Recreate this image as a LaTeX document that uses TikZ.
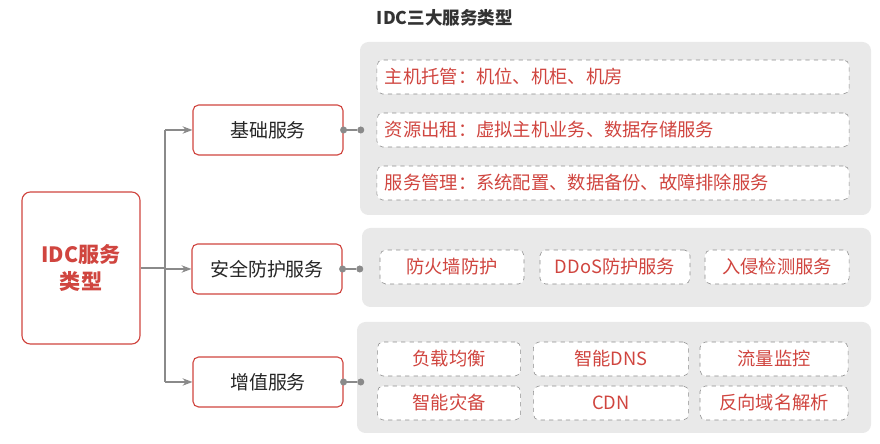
\documentclass[tikz,border=0pt]{standalone}
\usepackage{fontspec}
\setmainfont{Noto Sans CJK SC}
\usetikzlibrary{arrows.meta}
\definecolor{idcred}{HTML}{D0453F}
\definecolor{panelgray}{HTML}{E9E9E9}
\definecolor{linegray}{HTML}{8A8A8A}
\tikzset{
  rootbox/.style={draw=idcred,thick,rounded corners=6pt,fill=white,minimum width=2.95cm,minimum height=3.8cm,align=center,text=idcred,font=\bfseries\fontsize{15}{19}\selectfont},
  catbox/.style={draw=idcred,thick,rounded corners=4pt,fill=white,minimum width=3.75cm,minimum height=1.25cm,text=black!85,font=\fontsize{13.5}{15}\selectfont},
  panel/.style={fill=panelgray,rounded corners=6pt},
  itembox/.style={draw=black!45,dashed,rounded corners=4pt,fill=white,minimum height=0.85cm,text=idcred,font=\fontsize{13}{15}\selectfont},
  longitem/.style={itembox,text width=11.4cm,align=left,inner xsep=0.2cm},
  dot/.style={circle,fill=linegray,inner sep=0pt,minimum size=5pt},
  link/.style={draw=linegray,thick},
}
\begin{document}
\begin{tikzpicture}[x=0.025cm,y=-0.025cm]
\useasboundingbox (0,0) rectangle (880,444);
% title
\node[font=\bfseries\fontsize{12.5}{15}\selectfont,text=black!80] (title) at (445,18) {IDC三大服务类型};
% panels
\fill[panel] (360,42) rectangle (871,215);
\fill[panel] (362,228) rectangle (871,307);
\fill[panel] (357,322) rectangle (871,433);
% root and categories
\node[rootbox] (root) at (81,268) {IDC服务\\类型};
\node[catbox] (basic) at (268,130) {基础服务};
\node[catbox] (safe) at (267,269) {安全防护服务};
\node[catbox] (value) at (268,382) {增值服务};
% tree
\coordinate (fork) at (165,268);
\draw[link] (root.east) -- (fork);
\foreach \c in {basic,safe,value}
  \draw[link,-{Stealth[length=7pt]}] (fork |- \c) -- (\c.west);
\draw[link] (fork |- basic) -- (fork |- value);
% items
\node[longitem] (host) at (613,77) {主机托管：机位、机柜、机房};
\node[longitem] (rent) at (613,130) {资源出租：虚拟主机业务、数据存储服务};
\node[longitem] (manage) at (613,183) {服务管理：系统配置、数据备份、故障排除服务};
\node[itembox,minimum width=3.6cm] (fire) at (452,267) {防火墙防护};
\node[itembox,minimum width=3.75cm] (ddos) at (615,267) {DDoS防护服务};
\node[itembox,minimum width=3.6cm] (intrude) at (777,267) {入侵检测服务};
\node[itembox,minimum width=3.58cm] (load) at (449,359) {负载均衡};
\node[itembox,minimum width=3.88cm] (sdns) at (611,359) {智能DNS};
\node[itembox,minimum width=3.7cm] (flow) at (774,359) {流量监控};
\node[itembox,minimum width=3.58cm] (backup) at (449,403) {智能灾备};
\node[itembox,minimum width=3.88cm] (cdn) at (611,403) {CDN};
\node[itembox,minimum width=3.7cm] (dnsres) at (774,403) {反向域名解析};
% dot links
\foreach \c in {basic,safe,value}{
  \node[dot] (\c-a) at (\c.east) {};
  \node[dot] (\c-b) at ([xshift=0.43cm]\c.east) {};
  \draw[link] (\c-a) -- (\c-b);
}
\end{tikzpicture}
\end{document}
